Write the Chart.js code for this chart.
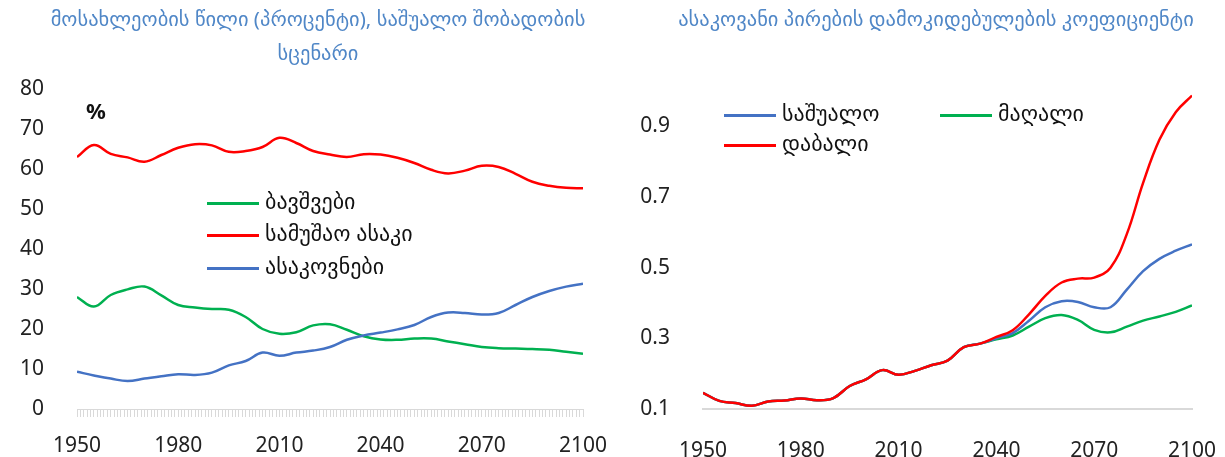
<!DOCTYPE html>
<html>
<head>
<meta charset="utf-8">
<script src="https://cdn.jsdelivr.net/npm/chart.js@4.4.0/dist/chart.umd.min.js"></script>
<style>
body { margin: 0; background: #fff; font-family: "Noto Sans", "DejaVu Sans", sans-serif; }
#wrap { position: relative; width: 1225px; height: 457px; overflow: hidden; }
canvas { position: absolute; top: 0; }
.title { position: absolute; color: #5087c7; font-size: 20.5px; line-height: 34px; text-align: center; }
.leg { position: absolute; font-size: 22px; color: #111; white-space: nowrap; line-height: 26px; }
.leg i { display: inline-block; width: 52px; height: 3px; vertical-align: middle; margin-right: 6px; }
.pct { position: absolute; left: 86px; top: 95px; font-size: 22px; font-weight: bold; color: #111; }
</style>
</head>
<body>
<div id="wrap">
	<canvas id="share" width="612" height="457" style="left:0"></canvas>
	<canvas id="ratio" width="613" height="457" style="left:612px"></canvas>

	<div class="title" style="left:18px;width:600px;top:1px">მოსახლეობის წილი (პროცენტი), საშუალო შობადობის<br>სცენარი</div>
	<div class="title" style="left:636px;width:600px;top:1px">ასაკოვანი პირების დამოკიდებულების კოეფიციენტი</div>

	<div class="pct">%</div>
	<div class="leg" style="left:207px;top:187px"><i style="background:#00b050"></i>ბავშვები</div>
	<div class="leg" style="left:207px;top:219px"><i style="background:#ff0000"></i>სამუშაო ასაკი</div>
	<div class="leg" style="left:207px;top:252px"><i style="background:#4472c4"></i>ასაკოვნები</div>

	<div class="leg" style="left:724px;top:99px"><i style="background:#4472c4"></i>საშუალო</div>
	<div class="leg" style="left:940px;top:99px"><i style="background:#00b050"></i>მაღალი</div>
	<div class="leg" style="left:724px;top:129px"><i style="background:#ff0000"></i>დაბალი</div>
</div>
<script>
// years sampled every 5
var years = [1950, 1955, 1960, 1965, 1970, 1975, 1980, 1985, 1990, 1995, 2000,
	2005, 2010, 2015, 2020, 2025, 2030, 2035, 2040, 2045, 2050,
	2055, 2060, 2065, 2070, 2075, 2080, 2085, 2090, 2095, 2100];

// population share, %
var children = [28.0, 25.6, 28.5, 29.9, 30.6, 28.4, 26.0, 25.4, 25.0, 24.8, 23.0,
	20.0, 18.8, 19.2, 20.9, 21.2, 19.8, 18.2, 17.4, 17.3, 17.6,
	17.6, 16.9, 16.2, 15.5, 15.2, 15.1, 15.0, 14.8, 14.3, 13.8];
var workingAge = [63.0, 66.0, 63.8, 62.9, 61.8, 63.5, 65.3, 66.2, 65.9, 64.3, 64.5,
	65.5, 67.8, 66.5, 64.5, 63.6, 63.0, 63.7, 63.6, 62.8, 61.5,
	59.8, 58.9, 59.6, 60.8, 60.5, 58.8, 56.8, 55.8, 55.3, 55.2];
var elderly = [9.3, 8.4, 7.6, 7.0, 7.6, 8.2, 8.7, 8.5, 9.1, 10.9, 12.0,
	14.1, 13.3, 14.1, 14.6, 15.5, 17.3, 18.4, 19.1, 19.9, 21.0,
	23.0, 24.1, 24.0, 23.6, 24.0, 26.0, 28.0, 29.5, 30.6, 31.3];

// old-age dependency ratio by fertility scenario
var ratioMedium = [0.146, 0.123, 0.117, 0.109, 0.121, 0.124, 0.130, 0.125, 0.131, 0.165, 0.184,
	0.210, 0.197, 0.208, 0.224, 0.237, 0.275, 0.285, 0.300, 0.315, 0.350,
	0.388, 0.405, 0.403, 0.388, 0.388, 0.438, 0.490, 0.525, 0.548, 0.566];
var ratioHigh = [0.146, 0.123, 0.117, 0.109, 0.121, 0.124, 0.130, 0.125, 0.131, 0.165, 0.184,
	0.210, 0.197, 0.208, 0.224, 0.237, 0.275, 0.285, 0.297, 0.308, 0.333,
	0.357, 0.366, 0.352, 0.324, 0.317, 0.333, 0.350, 0.362, 0.375, 0.393];
var ratioLow = [0.146, 0.123, 0.117, 0.109, 0.121, 0.124, 0.130, 0.125, 0.131, 0.165, 0.184,
	0.210, 0.197, 0.208, 0.224, 0.237, 0.275, 0.285, 0.304, 0.323, 0.368,
	0.420, 0.458, 0.469, 0.472, 0.500, 0.595, 0.740, 0.862, 0.940, 0.987];

var yearLabels = [1950, 1980, 2010, 2040, 2070, 2100];
var shareTicks = [0, 10, 20, 30, 40, 50, 60, 70, 80];
var ratioTicks = [0.1, 0.3, 0.5, 0.7, 0.9];

var GREEN = "#00b050", RED = "#ff0000", BLUE = "#4472c4";
var tickFont = { family: "'Noto Sans', 'DejaVu Sans', sans-serif", size: 21 };

function pairs(values) {
	return years.map((y, i) => ({ x: y, y: values[i] }));
}

function line(values, color, order) {
	return {
		data: pairs(values),
		borderColor: color,
		backgroundColor: color,
		borderWidth: 2.5,
		pointRadius: 0,
		tension: 0.4,
		fill: false,
		order: order
	};
}

// keep the plot edges where the padding puts them
function noLabelPadding(s, h) {
	s.height = h;
	s.paddingLeft = 0;
	s.paddingRight = 0;
}

Chart.defaults.animation = false;

new Chart(document.getElementById("share").getContext("2d"), {
	type: "line",
	data: {
		datasets: [
			line(children, GREEN, 2),
			line(workingAge, RED, 1),
			line(elderly, BLUE, 0)
		]
	},
	options: {
		responsive: false,
		devicePixelRatio: 1,
		layout: { padding: { top: 89, right: 29, left: 0, bottom: 0 } },
		plugins: { legend: { display: false }, tooltip: { enabled: false } },
		scales: {
			x: {
				type: "linear", min: 1950, max: 2100,
				afterFit: s => noLabelPadding(s, 48),
				grid: { display: true, drawOnChartArea: false, drawTicks: true, tickLength: 8, color: "#d9d9d9" },
				border: { display: true, color: "#d9d9d9" },
				ticks: {
					stepSize: 1, autoSkip: false, maxRotation: 0, minRotation: 0,
					padding: 16, color: "#222", font: tickFont,
					callback: v => yearLabels.includes(v) ? String(v) : ""
				}
			},
			y: {
				min: 0, max: 80,
				afterFit: s => { s.width = 77; },
				afterBuildTicks: s => { s.ticks = shareTicks.map(v => ({ value: v })); },
				grid: { display: false },
				border: { display: false },
				ticks: { padding: 25, color: "#222", font: tickFont }
			}
		}
	}
});

new Chart(document.getElementById("ratio").getContext("2d"), {
	type: "line",
	data: {
		datasets: [
			line(ratioLow, RED, 0),
			line(ratioMedium, BLUE, 1),
			line(ratioHigh, GREEN, 2)
		]
	},
	options: {
		responsive: false,
		devicePixelRatio: 1,
		layout: { padding: { top: 91, right: 33, left: 0, bottom: 0 } },
		plugins: { legend: { display: false }, tooltip: { enabled: false } },
		scales: {
			x: {
				type: "linear", min: 1950, max: 2100,
				afterFit: s => noLabelPadding(s, 48),
				afterBuildTicks: s => { s.ticks = yearLabels.map(v => ({ value: v })); },
				grid: { display: false },
				border: { display: true, color: "#d9d9d9", width: 2 },
				ticks: { maxRotation: 0, padding: 21, color: "#222", font: tickFont, callback: v => String(v) }
			},
			y: {
				min: 0.1, max: 1.0,
				afterFit: s => { s.width = 91; },
				afterBuildTicks: s => { s.ticks = ratioTicks.map(v => ({ value: v })); },
				grid: { display: false },
				border: { display: false },
				ticks: { padding: 25, color: "#222", font: tickFont, callback: v => v.toFixed(1) }
			}
		}
	}
});
</script>
</body>
</html>
